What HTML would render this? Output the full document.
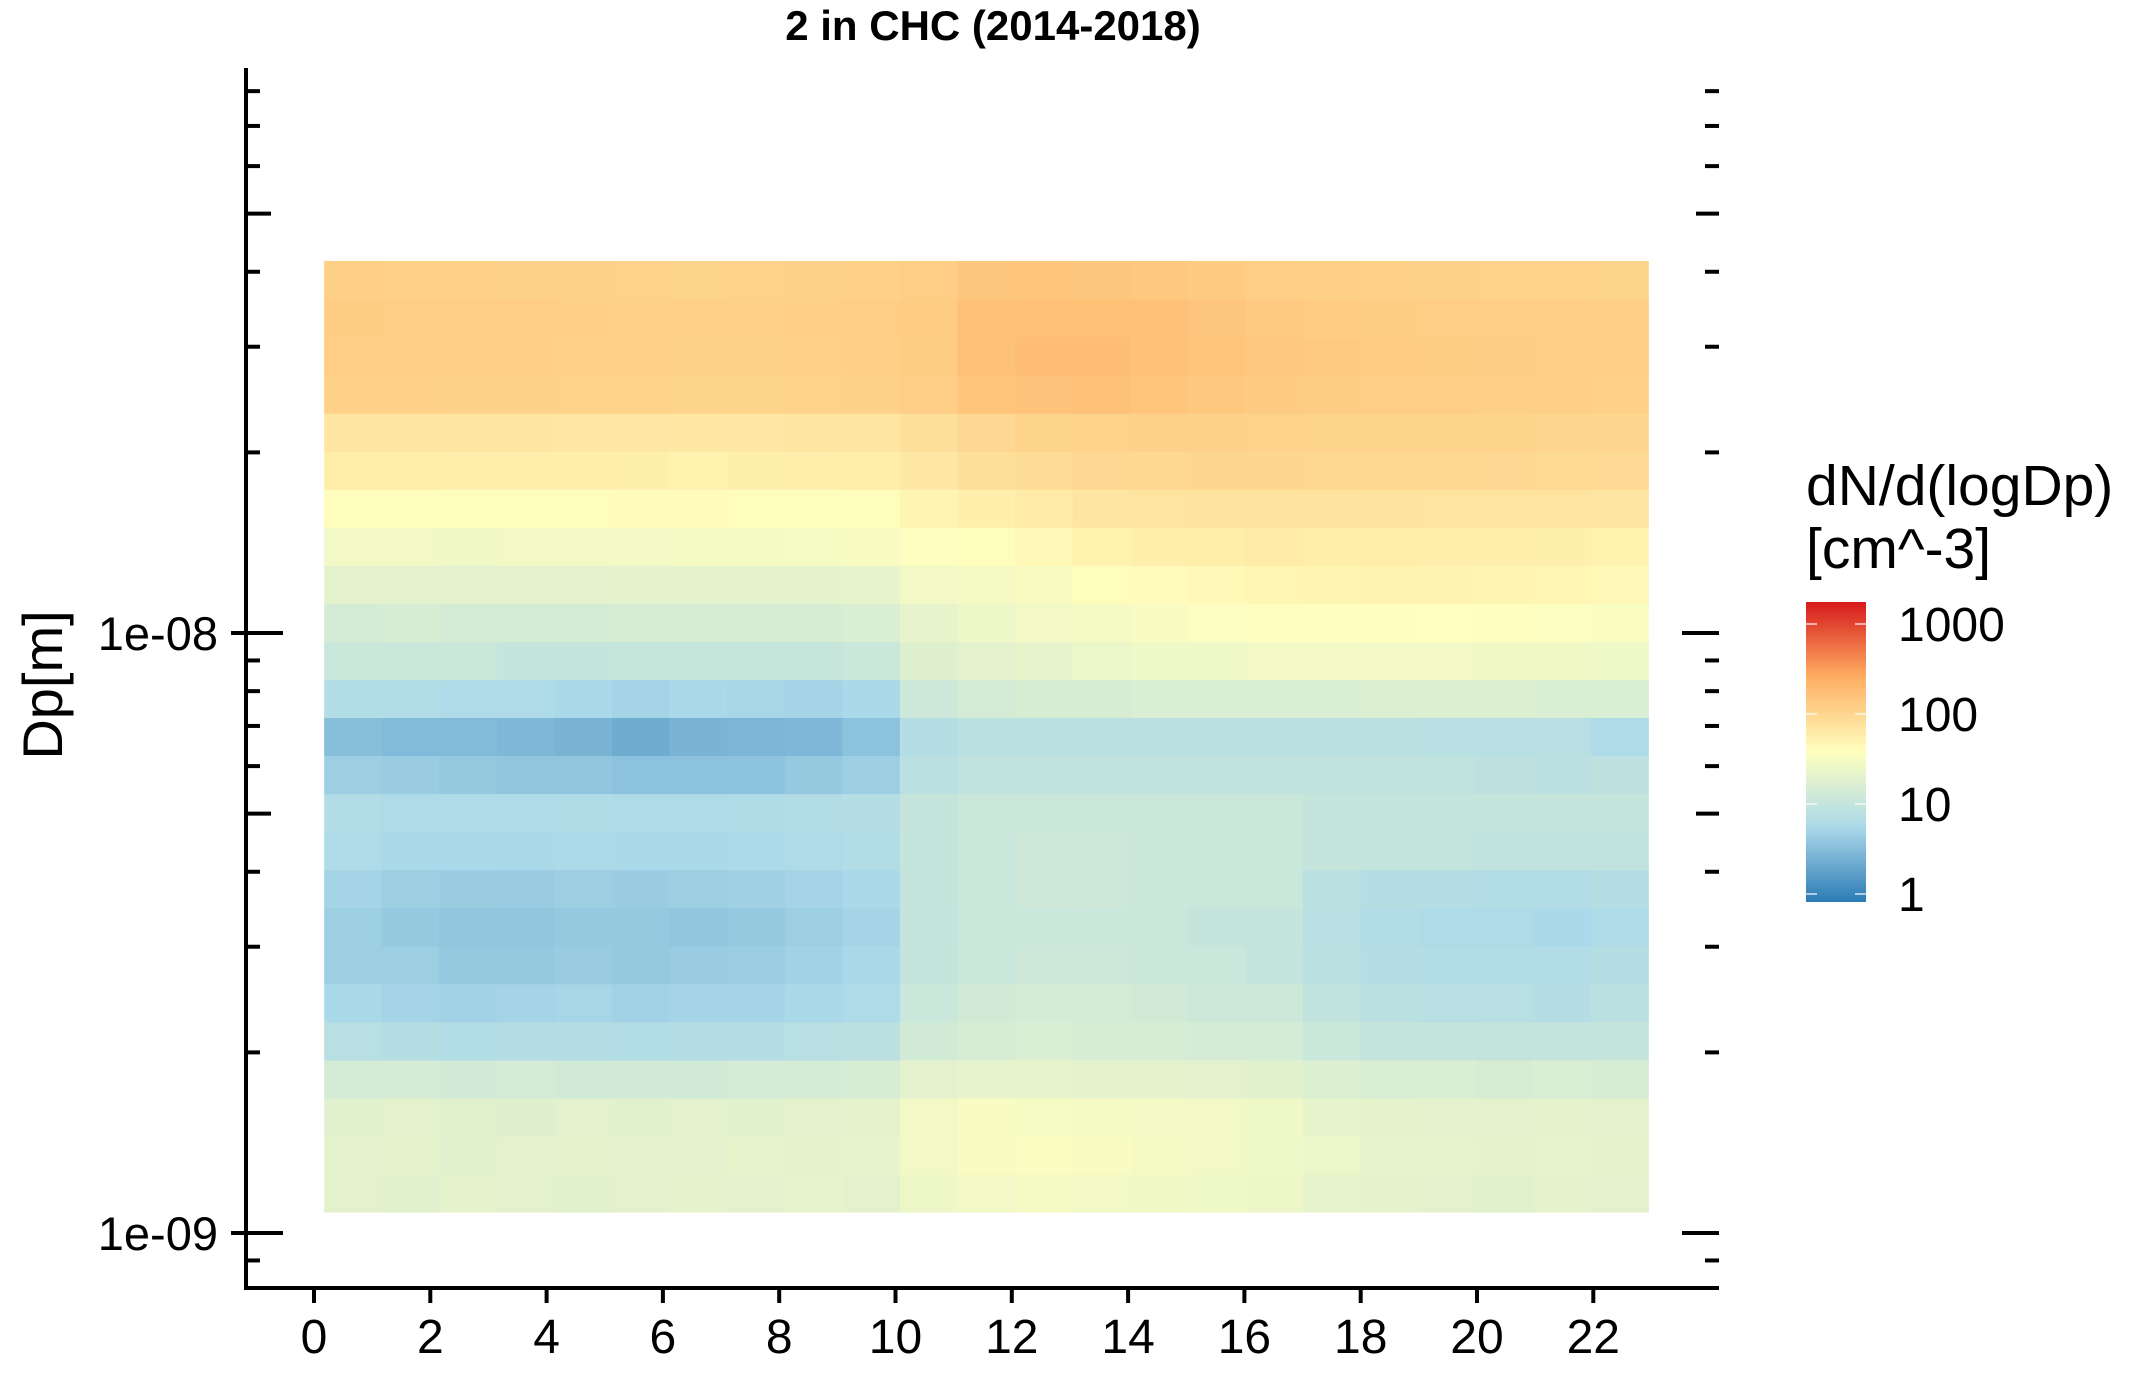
<!DOCTYPE html>
<html><head><meta charset="utf-8"><style>
html,body{margin:0;padding:0;background:#fff;}
svg{display:block;font-family:"Liberation Sans",Arial,sans-serif;}
</style></head><body>
<svg id="chart" width="2146" height="1375" viewBox="0 0 2146 1375" xmlns="http://www.w3.org/2000/svg">
<defs>
<linearGradient id="cbar" x1="0" y1="1" x2="0" y2="0">
<stop offset="0" stop-color="#2c7bb6"/><stop offset="0.25" stop-color="#abd9e9"/><stop offset="0.5" stop-color="#ffffbf"/><stop offset="0.75" stop-color="#fdae61"/><stop offset="1" stop-color="#d7191c"/>
</linearGradient>
</defs>
<text x="993" y="40" font-size="42" font-weight="bold" text-anchor="middle">2 in CHC (2014-2018)</text>
<g id="cells"></g>
<g id="axes"></g>
<text transform="translate(62,685) rotate(-90)" font-size="56" text-anchor="middle">Dp[m]</text>
<g>
<text x="1806" y="505" font-size="57">dN/d(logDp)</text>
<text x="1806" y="568" font-size="57">[cm^-3]</text>
<rect x="1806" y="602" width="60" height="300" fill="url(#cbar)"/>
<g id="legendTicks"></g>
</g>
</svg>
<script>
const hours = [0.67,1.66,2.65,3.64,4.63,5.62,6.61,7.60,8.59,9.58,10.57,11.56,12.55,13.54,14.53,15.52,16.51,17.50,18.49,19.48,20.47,21.46,22.45];
const diamNm = [1.166,1.349,1.561,1.806,2.090,2.419,2.800,3.240,3.749,4.339,5.021,5.810,6.723,7.780,9.000,10.41,12.05,13.95,16.14,18.68,21.61,25.01,28.94,33.49,38.76];
const r0 = [20,19,21,20,19,20,21,20,22,20,25,28,30,28,27,26,25,22,21,20,19,21,20];
const r1 = [20,21,19,20,21,20,20,22,21,22,28,32,34,32,30,28,26,24,22,22,21,22,21];
const r2 = [19,20,19,18,20,19,20,19,20,21,28,32,31,30,29,28,26,22,21,20,20,21,20];
const r3 = [14,14,13,14,13,13,13,14,14,15,20,22,22,21,21,20,19,17,16,16,15,16,15];
const r4 = [7.5,7,6.5,6.8,7,6.5,7,6.8,7.5,8,13,15,16,15,15,14,14,11,10,10,9.5,10,10];
const r5 = [5.5,5,4.8,5,5.2,4.8,5,5,5.5,6,11,13,14,14,13,12,12,9,8,7.5,7.5,7,8];
const r6 = [4.5,4.5,4,4,4.2,4,4.2,4.4,4.8,5.5,10,11,12,12,11,11,10,8,7,6.5,6.5,6.5,7];
const r7 = [4.5,4,3.8,3.8,4,4,3.8,4,4.5,5,9.5,11,11,11,11,10,10,7.5,6.5,6,6,5.5,6];
const r8 = [5,4.5,4.3,4.2,4.5,4.3,4.5,4.6,5,5.5,10,11,12,12,11,11,11,8,7,7,6.5,6.5,7];
const r9 = [6,5.5,5.5,5.5,5.8,5.5,5.5,5.8,6,6.5,10,11,12,12,11,11,11,10,9.5,9.5,9,9,9];
const r10 = [6.5,6,6,6,6.2,6,6,6.2,6.5,7,10,11,11,11,11,11,11,10,10,10,10,10,10];
const r11 = [4.5,4.3,4,3.8,3.8,3.5,3.5,3.5,4,4.5,8,9,9,9,9,9,9,9,9,9,8.5,8,8.5];
const r12 = [3.2,3,3,2.8,2.6,2.2,2.6,2.7,2.8,3.5,7,8,8,8,8,8,8,8,8,7.5,7.5,7.5,6];
const r13 = [6.5,6.5,6,6,5.5,5,5.5,5.2,5,5.5,12,14,15,15,16,16,16,16,17,17,17,16,16];
const r14 = [11,11,11,10,10,10.5,10.5,10.5,10.5,11,18,20,22,24,26,26,28,28,28,28,27,27,26];
const r15 = [14,15,14,14,14,15,15,15,15,16,22,25,28,30,32,35,36,36,37,38,36,35,34];
const r16 = [20,20,20,20,20,21,21,21,21,22,28,30,32,40,42,45,47,48,50,50,48,47,45];
const r17 = [28,28,27,28,28,29,30,30,31,32,36,40,45,52,56,58,60,58,58,56,56,55,52];
const r18 = [40,40,40,40,40,41,41,40,40,40,48,56,60,68,72,75,76,75,74,72,72,72,68];
const r19 = [58,58,56,56,56,55,53,55,56,58,65,80,85,95,98,100,100,98,98,96,95,94,92];
const r20 = [70,70,68,68,66,66,65,66,68,70,80,95,105,110,112,112,110,108,108,106,104,102,100];
const r21 = [115,115,112,112,110,110,108,108,110,112,120,150,155,160,150,140,130,125,122,120,118,118,115];
const r22 = [122,122,118,118,116,116,112,112,115,118,125,165,175,178,165,150,138,132,128,125,124,122,120];
const r23 = [125,122,120,120,118,116,115,115,118,120,128,160,170,170,160,148,135,128,125,122,120,120,118];
const r24 = [118,115,115,112,112,110,108,110,112,115,120,145,150,148,140,130,122,118,115,112,110,110,108];
const xTicks = [0,2,4,6,8,10,12,14,16,18,20,22];
const yMajorLabels = ["1e-09","1e-08"];
const legendTicks = [1,10,100,1000];

const rows = [r0,r1,r2,r3,r4,r5,r6,r7,r8,r9,r10,r11,r12,r13,r14,r15,r16,r17,r18,r19,r20,r21,r22,r23,r24];
const NS = "http://www.w3.org/2000/svg";
const X0 = 314, XPH = 58.15;
const xs = h => X0 + h*XPH;
const Y9 = 1233, YPD = 600;
const ys = d => Y9 - (Math.log10(d) + 9)*YPD;
const LMIN = -0.089, LMAX = 3.244;
const stops = [[44,123,182],[171,217,233],[255,255,191],[253,174,97],[215,25,28]];
function color(v){
  let t = (Math.log10(v)-LMIN)/(LMAX-LMIN);
  t = Math.max(0,Math.min(1,t))*4;
  const i = Math.min(3,Math.floor(t)), f = t-i;
  const a = stops[i], b = stops[i+1];
  return "rgb("+a.map((c,k)=>Math.round(c+(b[k]-c)*f)).join(",")+")";
}
function mk(tag, attrs, parent){
  const e = document.createElementNS(NS, tag);
  for (const k in attrs) e.setAttribute(k, attrs[k]);
  parent.appendChild(e); return e;
}
const cells = document.getElementById("cells");
const dLog = Math.log10(diamNm[1]/diamNm[0]);
const dH = hours[1]-hours[0];
rows.forEach((row, ri) => {
  const lc = Math.log10(diamNm[ri]*1e-9);
  const yTop = ys(Math.pow(10, lc + dLog/2)), yBot = ys(Math.pow(10, lc - dLog/2));
  row.forEach((v, ci) => {
    const x1 = xs(hours[ci]-dH/2), x2 = xs(hours[ci]+dH/2);
    const r = mk("rect", {x:x1.toFixed(2), y:yTop.toFixed(2), width:(x2-x1+0.6).toFixed(2), height:(yBot-yTop+0.6).toFixed(2), fill:color(v)}, cells);
    
    
  });
});
const ax = document.getElementById("axes");
const yl = mk("line", {x1:246, y1:68, x2:246, y2:1290, stroke:"#000", "stroke-width":4}, ax);


const xl = mk("line", {x1:244, y1:1288, x2:1719, y2:1288, stroke:"#000", "stroke-width":4}, ax);


xTicks.forEach(h => {
  const x = xs(h);
  const t = mk("line", {x1:x, y1:1290, x2:x, y2:1303, stroke:"#000", "stroke-width":4}, ax);
  
  
  const l = mk("text", {x:x, y:1353, "font-size":48, "text-anchor":"middle"}, ax);
  l.textContent = h;
  
  
});
let mi = 0;
[-10,-9,-8].forEach(dec => {
  for (let m=1; m<=9; m++){
    const v = m*Math.pow(10,dec);
    if (v < 8.9e-10 || v > 8.1e-8) continue;
    const y = ys(v);
    let lx1, lx2, rx1;
    if (m===1){ lx1=231; lx2=283; rx1=1682; }
    else if (m===5){ lx1=248; lx2=271; rx1=1696; }
    else { lx1=248; lx2=260; rx1=1705; }
    const t = mk("line", {x1:lx1, y1:y, x2:lx2, y2:y, stroke:"#000", "stroke-width":4}, ax);
    
    
    const t2 = mk("line", {x1:rx1, y1:y, x2:1719, y2:y, stroke:"#000", "stroke-width":4}, ax);
    
    
    if (m===1){
      const l = mk("text", {x:218, y:y+17, "font-size":47, "text-anchor":"end"}, ax);
      l.textContent = yMajorLabels[mi++];
      
      
    }
  }
});
const lg = document.getElementById("legendTicks");
legendTicks.forEach(v => {
  const y = 894 - Math.log10(v)*90;
  const a = mk("line", {x1:1806, y1:y, x2:1817, y2:y, stroke:"#fff", "stroke-width":1.2}, lg);
  
  
  const b = mk("line", {x1:1855, y1:y, x2:1866, y2:y, stroke:"#fff", "stroke-width":1.2}, lg);
  
  
  const l = mk("text", {x:1898, y:y+17, "font-size":48}, lg);
  l.textContent = v;
  
  
});
</script>
</body></html>
